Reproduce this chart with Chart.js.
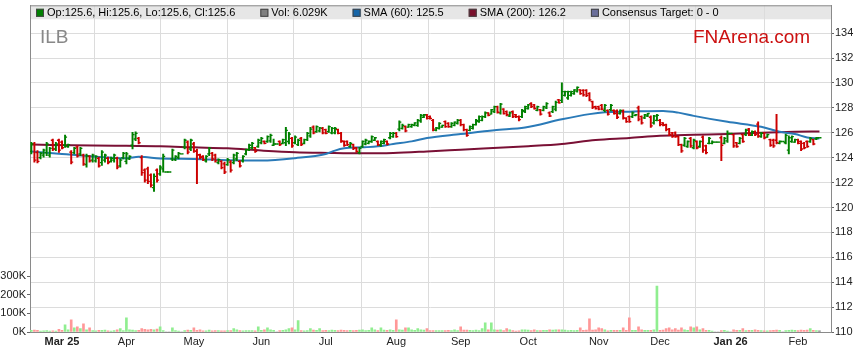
<!DOCTYPE html>
<html><head><meta charset="utf-8">
<script src="https://cdn.jsdelivr.net/npm/chart.js@4/dist/chart.umd.min.js"></script>
<style>html,body{margin:0;padding:0;background:#fff;overflow:hidden}canvas{display:block}</style>
</head><body>
<canvas id="c" width="859" height="363"></canvas>
<script>
// ---- data (x = weekday index from 17 Feb 2025) ----
const openP = [124.5,125.1,124.4,124.0,124.2,124.4,124.2,125.4,124.7,125.4,
125.25,125.0,124.9,124.45,124.4,124.85,124.3,124.2,123.45,124.1,
123.8,123.75,123.95,123.6,123.8,123.95,123.7,123.8,123.95,123.35,
124.0,123.7,123.9,125.0,125.5,125.55,124.0,123.0,123.1,122.6,
121.6,123.0,122.7,123.1,122.85,122.85,123.9,123.85,124.0,124.3,
124.85,125.25,124.7,125.1,124.5,124.25,124.1,123.75,124.3,124.35,
124.2,123.6,123.7,123.5,123.45,123.65,123.6,123.9,123.7,123.75,
124.3,124.65,124.8,124.8,124.9,125.2,125.3,125.3,125.35,125.0,
125.1,125.3,125.15,125.2,125.3,125.55,125.2,125.05,125.55,125.15,
125.45,125.75,126.45,126.1,126.15,126.35,126.25,126.1,126.0,126.0,
126.25,125.95,125.3,125.3,124.9,125.05,124.8,124.4,124.9,125.1,
125.15,125.3,125.4,125.3,125.0,125.15,125.3,125.6,125.7,125.95,
126.3,126.35,126.5,126.45,126.5,126.6,126.6,126.95,127.25,127.45,
127.3,127.0,126.2,126.35,126.45,126.9,126.75,126.5,126.6,126.75,
127.0,126.65,126.25,126.2,126.35,126.65,126.9,127.0,127.3,127.6,
127.5,127.7,128.1,127.6,127.9,127.7,127.35,127.7,127.45,127.3,
127.3,127.7,127.95,128.35,128.25,127.8,127.85,127.8,128.0,127.6,
127.7,127.9,128.65,128.6,129.0,128.8,129.0,129.15,129.35,129.45,
129.4,129.4,129.15,128.5,128.1,128.1,128.2,127.8,127.8,127.85,
127.8,127.75,127.55,127.75,127.15,127.3,127.3,127.4,128.0,127.3,
127.2,127.35,127.25,126.8,127.0,127.0,126.8,126.65,126.3,126.0,
126.0,125.7,125.05,125.0,124.9,125.55,124.8,125.3,124.9,125.65,
124.95,125.15,125.15,125.25,125.25,125.6,125.15,125.35,125.95,125.85,
125.2,125.15,125.85,125.85,126.3,125.8,126.1,126.7,125.7,125.95,
125.65,125.45,125.4,125.4,125.15,125.3,125.2,124.6,125.3,125.25,
125.45,125.3,125.15,125.3,125.3,125.45,125.5,125.6];
const highP = [125.23,125.23,124.57,124.43,124.7,125.23,124.83,125.5,125.23,125.5,
125.36,125.82,125.1,124.57,124.83,124.96,124.83,124.3,124.3,124.17,
124.3,124.17,124.04,124.57,124.3,124.04,124.04,124.3,124.04,123.9,
124.43,124.43,124.17,126.03,126.08,125.63,124.17,123.1,123.24,122.71,
122.71,123.1,123.37,124.3,122.85,122.85,124.7,124.17,124.43,124.3,
125.5,125.36,125.5,125.23,124.7,124.3,124.17,124.17,124.83,124.43,
124.3,123.9,123.77,123.64,123.95,123.77,124.3,124.43,123.77,124.17,
124.7,125.1,125.23,124.83,125.5,125.63,125.36,125.76,125.9,125.5,
125.1,125.36,125.5,126.43,126.03,125.63,125.76,125.5,125.63,125.5,
126.03,126.43,126.56,126.56,126.43,126.43,126.29,126.56,126.43,126.43,
126.29,126.03,125.36,125.36,125.23,125.1,124.83,124.83,125.36,125.5,
125.36,125.76,125.63,125.36,125.36,125.5,125.36,126.03,126.03,126.03,
126.96,126.69,126.56,126.69,126.69,126.83,127.09,127.49,127.49,127.49,
127.36,127.09,126.43,126.83,126.61,126.96,126.83,126.83,126.88,127.09,
127.09,126.69,126.29,126.56,126.69,127.09,127.36,127.36,127.68,127.62,
127.89,128.15,128.15,128.37,127.94,127.76,127.68,127.76,127.49,127.36,
127.89,128.15,128.29,128.42,128.29,128.15,127.89,128.15,128.42,127.68,
128.15,128.55,128.69,130.01,129.35,129.35,129.35,129.48,129.7,129.48,
129.48,129.48,129.22,128.55,128.15,128.15,128.29,128.29,127.84,128.29,
127.84,127.84,127.84,127.84,127.22,127.36,127.68,127.49,128.15,127.36,
127.49,127.57,127.36,127.41,127.49,127.09,126.83,126.69,126.35,126.03,
126.08,125.76,125.1,125.63,125.36,125.63,125.5,125.36,125.36,125.76,
125.02,125.63,125.36,125.25,125.25,125.76,125.63,126.16,125.95,125.9,
125.23,125.63,125.9,126.29,126.35,126.16,126.16,126.88,126.03,126.03,
125.9,125.5,125.5,127.49,125.36,125.3,125.9,125.76,125.76,125.5,
125.5,125.36,125.23,125.36,125.63,125.5,125.63,125.6];
const lowP = [124.3,123.64,123.58,123.9,124.04,124.17,124.04,124.57,124.57,124.43,
124.7,124.83,124.83,123.5,124.3,124.04,124.17,123.37,123.24,123.64,
123.64,123.64,123.24,123.37,123.64,123.5,123.64,123.64,123.1,123.24,
123.9,123.5,123.85,124.7,125.36,125.1,122.57,122.04,121.91,121.64,
121.3,122.04,122.57,122.84,122.85,122.85,123.77,123.77,123.9,124.3,
124.7,124.3,124.57,124.43,121.91,123.9,123.77,123.64,124.17,123.77,
123.64,123.5,123.1,122.71,123.37,122.84,123.5,123.77,123.24,123.64,
124.22,124.57,124.7,124.43,124.83,125.1,125.1,125.23,125.23,124.96,
125.1,124.96,125.1,124.96,125.1,124.83,125.1,124.96,124.96,125.1,
125.36,125.63,125.9,126.03,126.08,125.9,125.9,126.03,125.9,125.9,
125.9,125.23,124.91,124.96,124.83,124.65,124.43,124.3,124.83,125.02,
125.1,125.23,125.36,124.96,124.91,125.1,125.02,125.5,125.63,125.63,
126.16,126.29,126.08,126.43,126.43,126.56,126.51,126.83,127.22,127.09,
127.09,126.16,126.16,126.29,126.43,126.43,126.43,126.43,126.56,126.69,
126.56,126.16,125.71,126.16,126.29,126.61,126.83,126.96,127.22,127.36,
127.49,127.62,127.57,127.49,127.49,127.36,127.3,127.22,127.22,126.96,
127.22,127.62,127.89,128.02,127.89,127.76,127.41,127.76,127.94,127.3,
127.62,127.76,128.37,128.42,128.95,128.69,128.95,129.08,129.27,129.08,
128.95,128.9,128.55,127.94,127.89,127.84,127.84,127.68,127.41,127.76,
127.49,127.14,127.49,127.09,126.83,126.83,127.22,127.36,126.96,126.69,
127.14,127.3,126.43,126.69,126.96,126.56,126.56,126.16,125.76,125.63,
125.63,124.96,124.43,124.91,124.83,124.83,124.7,124.7,124.83,124.43,
124.3,125.1,125.1,125.25,125.25,123.77,125.1,125.23,125.95,124.83,
124.83,125.1,125.23,125.76,125.76,125.76,125.76,125.63,125.63,125.5,
125.63,124.91,124.83,125.1,125.1,125.3,125.1,124.3,125.23,125.23,
125.1,124.57,124.7,124.83,125.23,125.02,125.45,125.6];
const closeP = [125.1,123.8,123.7,124.35,124.6,125.1,124.75,124.7,125.1,124.6,
124.8,125.65,125.05,123.65,124.75,124.15,124.75,123.5,124.15,123.75,
124.2,124.1,123.35,124.45,124.2,123.6,123.95,124.2,123.25,123.8,
124.35,124.3,124.1,125.85,125.95,125.2,122.8,122.2,122.1,121.8,
122.5,122.2,123.25,124.1,122.85,122.85,124.6,124.1,124.35,124.3,
125.4,124.45,125.4,124.55,124.2,124.0,123.85,124.1,124.75,123.9,
123.75,123.85,123.2,122.85,123.85,123.0,124.2,124.35,123.35,124.1,
124.65,125.0,125.15,124.5,125.4,125.55,125.15,125.7,125.8,125.1,
125.1,125.05,125.45,126.2,125.9,124.95,125.65,125.4,125.05,125.45,
125.95,126.3,126.0,126.5,126.4,126.0,125.95,126.5,126.35,126.35,
125.95,125.35,125.0,125.05,125.15,124.75,124.5,124.75,125.3,125.4,
125.3,125.7,125.6,125.05,125.3,125.45,125.1,125.95,125.95,125.7,
126.85,126.6,126.15,126.65,126.65,126.8,127.0,127.4,127.45,127.15,
127.15,126.3,126.4,126.75,126.6,126.5,126.5,126.75,126.85,127.0,
126.65,126.25,125.8,126.5,126.65,127.0,127.3,127.3,127.6,127.4,
127.85,128.1,127.65,128.3,127.55,127.45,127.6,127.3,127.3,127.05,
127.8,128.1,128.25,128.1,127.95,128.1,127.5,128.1,128.35,127.35,
128.1,128.45,128.4,129.3,129.3,129.3,129.3,129.45,129.65,129.15,
129.05,129.0,128.65,128.05,127.95,127.9,127.9,128.2,127.5,128.2,
127.55,127.25,127.8,127.2,126.9,126.9,127.6,127.45,127.1,126.8,
127.45,127.55,126.55,127.35,127.4,126.65,126.6,126.25,125.85,125.7,
125.7,125.05,124.55,125.55,125.3,124.95,125.4,124.8,125.3,124.6,
124.4,125.55,125.25,125.25,125.25,125.0,125.55,125.95,125.95,124.95,
124.9,125.55,125.3,126.2,125.85,126.1,125.85,125.75,125.95,125.6,
125.85,125.0,124.95,125.2,125.3,125.3,125.8,125.6,125.7,125.45,
125.15,124.7,124.8,124.9,125.55,125.1,125.6,125.6];
const volume = [9000,10000,9500,5000,6000,8000,5000,6000,5000,14000,
9000,39000,12000,65000,23000,28000,18000,44000,12000,23000,
8000,6000,9000,9000,10000,6000,5000,8000,12000,18000,
7000,76000,12000,10000,7000,9000,18000,14000,12000,14000,
12000,16000,28000,8000,0,0,23000,7000,5000,0,
8000,10000,9000,23000,9000,12000,6000,6000,10000,6000,
7000,7000,6000,6000,8000,7000,18000,12000,7000,6000,
7000,8000,7000,6000,28000,9000,12000,23000,12000,9000,
0,7000,9000,12000,18000,23000,12000,62000,7000,6000,
7000,18000,10000,9000,18000,7000,9000,8000,10000,9000,
8000,10000,9000,8000,9000,7000,9000,10000,12000,7000,
9000,23000,12000,8000,23000,10000,9000,12000,9000,65000,
12000,10000,23000,23000,12000,9000,18000,12000,10000,18000,
7000,8000,8000,7000,8000,7000,9000,7000,12000,7000,
28000,10000,10000,9000,7000,10000,7000,18000,50000,12000,
50000,12000,10000,12000,8000,18000,12000,7000,5000,6000,
12000,12000,10000,7000,12000,7000,8000,9000,9000,12000,
10000,12000,12000,12000,10000,8000,9000,8000,9000,23000,
9000,10000,71000,10000,12000,23000,18000,12000,6000,9000,
9000,9000,9000,23000,9000,76000,9000,9000,28000,12000,
9000,9000,9000,12000,248000,9000,10000,18000,23000,12000,
18000,10000,23000,12000,9000,28000,23000,28000,12000,18000,
9000,9000,5000,0,0,7000,9000,5000,0,12000,
9000,9000,18000,7000,9000,9000,12000,9000,7000,6000,
6000,7000,9000,10000,9000,0,7000,9000,10000,9000,
8000,10000,9000,10000,18000,9000,7000,6029];
const sma60X = [0,10,20,31,35,37,42,53,64,75,86,96,99,102,108,113,118,124,129,140,151,161,173,182,187,195,206,211,216,227,238,244,249,253,257];
const sma60Y = [124.5,124.3,124.1,123.96,124.07,124.05,123.93,123.9,123.8,123.77,123.96,124.3,124.57,124.75,124.83,124.91,125.1,125.31,125.58,125.9,126.21,126.42,127.08,127.5,127.65,127.7,127.76,127.62,127.36,126.88,126.48,126.08,125.9,125.63,125.55];
const sma200X = [0,20,31,42,53,64,75,86,97,108,118,129,140,162,173,184,195,205,216,227,238,249,257];
const sma200Y = [125.05,124.98,124.95,124.92,124.83,124.75,124.57,124.43,124.38,124.35,124.38,124.5,124.64,124.92,125.1,125.42,125.58,125.76,125.84,125.9,126.0,126.08,126.11];
const monthIndex = [10,31,53,75,96,119,140,162,185,205,228,250];
const monthLabels = ['Mar 25','Apr','May','Jun','Jul','Aug','Sep','Oct','Nov','Dec','Jan 26','Feb'];
const priceTicks = [110,112,114,116,118,120,122,124,126,128,130,132,134];
const volumeTicks = [0,100000,200000,300000];
const legendTexts = ['Op:125.6, Hi:125.6, Lo:125.6, Cl:125.6','Vol: 6.029K','SMA (60): 125.5','SMA (200): 126.2','Consensus Target: 0 - 0'];

// ---- styles ----
const FONT = '"Liberation Sans", Arial, sans-serif';
const UP = '#008000', DN = '#cc0000';
const legendColors = ['#008000','#808080','#1565a8','#7a0f2c','#6a6e9a'];
const barColors = closeP.map((c,i)=> c >= openP[i] ? UP : DN);
const volColors = closeP.map((c,i)=> c > openP[i] ? '#90ee90' : (c < openP[i] ? '#ff9898' : '#8c8c8c'));
const idx = closeP.map((_,i)=>i);

Chart.defaults.font.family = FONT;
Chart.defaults.font.size = 11;
Chart.defaults.color = '#222';

const frame = {
  id: 'frame',
  beforeDraw(chart){
    const {ctx, chartArea:a} = chart;
    ctx.save();
    ctx.fillStyle = '#e6e6e6';
    ctx.fillRect(a.left, a.top, a.right - a.left, 14);
    ctx.restore();
  },
  afterDraw(chart){
    const {ctx, chartArea:a} = chart;
    ctx.save();
    ctx.strokeStyle = '#8a8a8a'; ctx.lineWidth = 1;
    ctx.beginPath(); ctx.moveTo(a.left, a.top + 0.5); ctx.lineTo(a.right, a.top + 0.5); ctx.stroke();
    ctx.font = '11px ' + FONT;
    ctx.textBaseline = 'middle';
    let x = a.left + 6; const ym = a.top + 7.5;
    legendTexts.forEach((t,i)=>{
      ctx.fillStyle = legendColors[i];
      ctx.fillRect(x, ym - 4, 8, 8);
      ctx.strokeStyle = '#444';
      ctx.strokeRect(x + 0.5, ym - 3.5, 7, 7);
      ctx.fillStyle = '#000';
      ctx.fillText(t, x + 11, ym);
      x += 11 + ctx.measureText(t).width + 25;
    });
    ctx.textBaseline = 'alphabetic';
    ctx.font = '19px ' + FONT;
    ctx.fillStyle = '#888';
    ctx.fillText('ILB', a.left + 10, a.top + 38);
    ctx.fillStyle = '#cc1111';
    ctx.fillText('FNArena.com', 693, a.top + 38);
    ctx.restore();
  }
};

new Chart(document.getElementById('c'), {
  data: {
    datasets: [
      { type:'bar', label:'Vol', yAxisID:'yv', data: volume.map((v,i)=>({x:i, y:v})),
        backgroundColor: volColors, barThickness: 2, grouped:false, order:6 },
      { type:'line', label:'SMA (200)', yAxisID:'y', data: sma200X.map((x,i)=>({x, y:sma200Y[i]})),
        borderColor:'#7a1035', borderWidth:2, pointRadius:0, cubicInterpolationMode:'monotone', order:5 },
      { type:'line', label:'SMA (60)', yAxisID:'y', data: sma60X.map((x,i)=>({x, y:sma60Y[i]})),
        borderColor:'#2a7ab8', borderWidth:2, pointRadius:0, cubicInterpolationMode:'monotone', order:4 },
      { type:'bar', label:'HL', yAxisID:'y', data: idx.map(i=>({x:i, y:[lowP[i], highP[i]]})),
        backgroundColor: barColors, barThickness: 1.3, grouped:false, order:2 },
      { type:'scatter', label:'Open', yAxisID:'y', data: idx.map(i=>({x:i, y:openP[i]})),
        pointStyle:'dash', pointRotation:180, pointRadius:2, pointBorderWidth:1.3,
        pointBorderColor: barColors, pointBackgroundColor: barColors, order:1 },
      { type:'scatter', label:'Close', yAxisID:'y', data: idx.map(i=>({x:i, y:closeP[i]})),
        pointStyle:'dash', pointRotation:0, pointRadius:2, pointBorderWidth:1.3,
        pointBorderColor: barColors, pointBackgroundColor: barColors, order:0 }
    ]
  },
  options: {
    responsive:false, animation:false, devicePixelRatio:1, events:[],
    layout:{ padding:{ top:3, left:0, right:0, bottom:0 } },
    plugins:{ legend:{display:false}, tooltip:{enabled:false} },
    scales:{
      x:{ type:'linear', min:-0.435, max:260.76, offset:false,
        afterBuildTicks: s => { s.ticks = monthIndex.map(v=>({value:v})); },
        afterFit: s => { s.height = 31; s.paddingLeft = 0; s.paddingRight = 0; },
        ticks:{ autoSkip:false, maxRotation:0, padding:3, color:'#222',
          callback: v => monthLabels[monthIndex.indexOf(v)],
          font: c => ({ size:11, family:FONT, weight: (c.tick && /\d/.test(monthLabels[monthIndex.indexOf(c.tick.value)] || '')) ? 'bold' : 'normal' }) },
        grid:{ color:'#dcdcdc', drawTicks:false },
        border:{ color:'#8a8a8a' } },
      y:{ position:'right', min:110, max:136.24,
        afterBuildTicks: s => { s.ticks = priceTicks.map(v=>({value:v})); },
        afterFit: s => { s.width = 28; s.paddingTop = 0; s.paddingBottom = 0; },
        ticks:{ padding:1, color:'#222', callback: v => String(v) },
        grid:{ color:'#dcdcdc', tickColor:'#666', tickLength:3 },
        border:{ color:'#8a8a8a' } },
      yv:{ position:'left', min:0, max:1762500,
        afterBuildTicks: s => { s.ticks = volumeTicks.map(v=>({value:v})); },
        afterFit: s => { s.width = 30; s.paddingTop = 0; s.paddingBottom = 0; },
        ticks:{ padding:1, color:'#222', callback: v => (v/1000) + 'K' },
        grid:{ drawOnChartArea:false, tickColor:'#666', tickLength:3 },
        border:{ color:'#8a8a8a' } }
    }
  },
  plugins:[frame]
});
</script>
</body></html>
